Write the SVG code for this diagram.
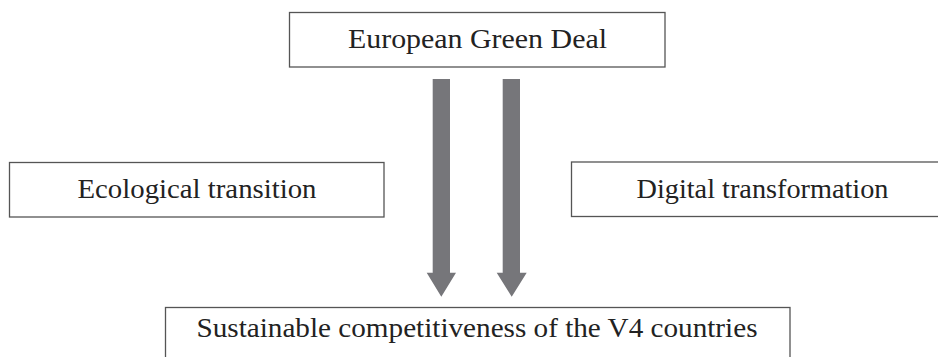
<svg xmlns="http://www.w3.org/2000/svg" width="938" height="357" viewBox="0 0 938 357">
<style>
.box{fill:#fff;stroke:#555;stroke-width:1.3}
.lbl{font-family:"Liberation Serif","Times New Roman",serif;font-size:27px;fill:#222;text-anchor:middle}
.arr{fill:#76767a}
</style>
<rect width="938" height="357" fill="#fff"/>
<g id="n-top"><rect class="box" x="289.5" y="12.5" width="375.5" height="54.5"/><text class="lbl" x="477.5" y="48" textLength="259" lengthAdjust="spacingAndGlyphs">European Green Deal</text></g>
<g id="n-left"><rect class="box" x="9.5" y="162.5" width="374.5" height="54.5"/><text class="lbl" x="197" y="198" textLength="239" lengthAdjust="spacingAndGlyphs">Ecological transition</text></g>
<g id="n-right"><rect class="box" x="571.5" y="162" width="400" height="54.5"/><text class="lbl" x="762.5" y="198" textLength="252" lengthAdjust="spacingAndGlyphs">Digital transformation</text></g>
<g id="n-bottom"><rect class="box" x="165.5" y="307.5" width="624.5" height="70"/><text class="lbl" x="477" y="337" textLength="561" lengthAdjust="spacingAndGlyphs">Sustainable competitiveness of the V4 countries</text></g>
<g id="connectors">
<polygon class="arr" points="432.7,79 450,79 450,272.7 456,272.7 441.3,296.7 426.7,272.7 432.7,272.7"/>
<polygon class="arr" points="502.7,79 520,79 520,272.7 526.7,272.7 511.7,296.7 496.7,272.7 502.7,272.7"/>
</g>
</svg>
